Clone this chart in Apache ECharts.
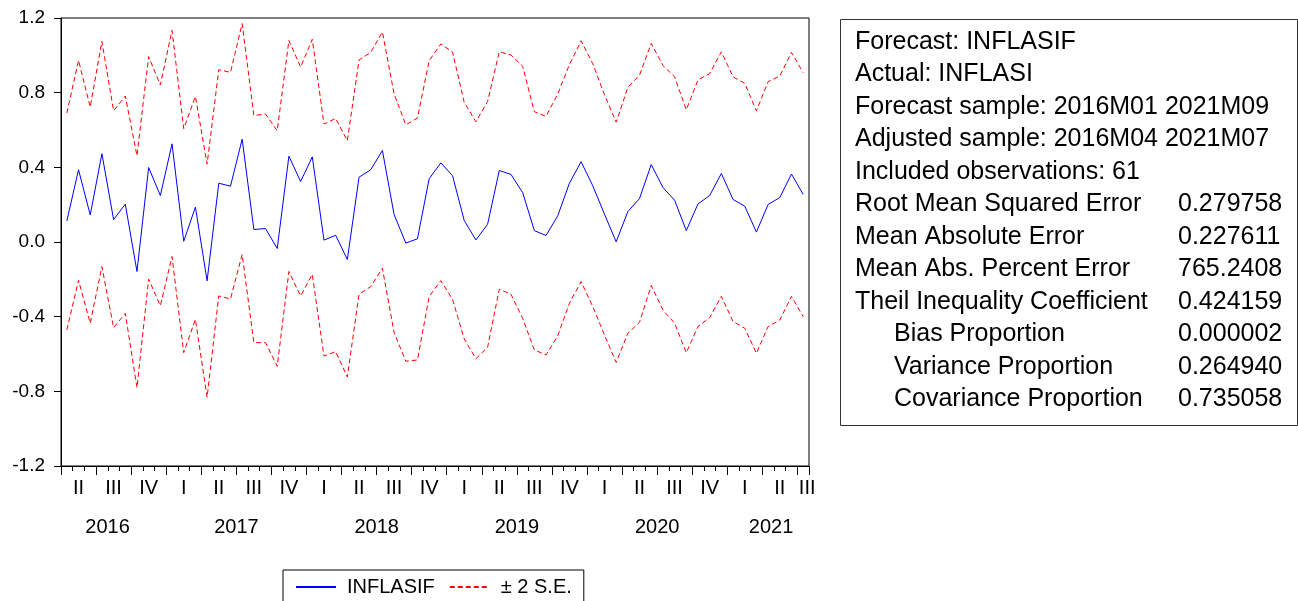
<!DOCTYPE html>
<html>
<head>
<meta charset="utf-8">
<script src="https://cdn.jsdelivr.net/npm/echarts@6/dist/echarts.min.js"></script>
<style>
html,body{margin:0;padding:0;background:#fff;}
#chart{width:1298px;height:601px;}
</style>
</head>
<body>
<div id="chart"></div>
<script>
// ---------- DATA ----------
const months = [
 '2016M04','2016M05','2016M06','2016M07','2016M08','2016M09','2016M10','2016M11','2016M12',
 '2017M01','2017M02','2017M03','2017M04','2017M05','2017M06','2017M07','2017M08','2017M09','2017M10','2017M11','2017M12',
 '2018M01','2018M02','2018M03','2018M04','2018M05','2018M06','2018M07','2018M08','2018M09','2018M10','2018M11','2018M12',
 '2019M01','2019M02','2019M03','2019M04','2019M05','2019M06','2019M07','2019M08','2019M09','2019M10','2019M11','2019M12',
 '2020M01','2020M02','2020M03','2020M04','2020M05','2020M06','2020M07','2020M08','2020M09','2020M10','2020M11','2020M12',
 '2021M01','2021M02','2021M03','2021M04','2021M05','2021M06','2021M07'
];
const forecast = [
 0.113,0.387,0.145,0.473,0.120,0.203,-0.158,0.399,0.249,
 0.526,0.004,0.187,-0.208,0.315,0.299,0.551,0.067,0.072,-0.035,0.460,0.324,
 0.456,0.010,0.036,-0.094,0.347,0.387,0.490,0.147,-0.006,0.017,0.339,0.424,
 0.355,0.115,0.011,0.095,0.383,0.362,0.265,0.061,0.035,0.140,0.315,0.430,
 0.301,0.149,0.001,0.163,0.233,0.415,0.292,0.224,0.061,0.204,0.249,0.367,
 0.228,0.192,0.053,0.201,0.238,0.364,0.255
];
const upperBand = [
 0.691,0.973,0.723,1.075,0.703,0.782,0.462,0.993,0.841,
 1.134,0.607,0.780,0.417,0.923,0.909,1.170,0.678,0.685,0.596,1.080,0.937,
 1.086,0.632,0.662,0.542,0.975,1.016,1.125,0.793,0.628,0.664,0.971,1.061,
 1.018,0.748,0.644,0.753,1.019,1.002,0.941,0.698,0.673,0.793,0.950,1.078,
 0.955,0.789,0.642,0.828,0.894,1.064,0.946,0.885,0.708,0.868,0.902,1.019,
 0.885,0.850,0.703,0.859,0.889,1.016,0.907
];
const lowerBand = [
 -0.471,-0.205,-0.435,-0.132,-0.459,-0.382,-0.780,-0.199,-0.341,
 -0.078,-0.593,-0.414,-0.832,-0.289,-0.305,-0.067,-0.539,-0.539,-0.666,-0.158,-0.289,
 -0.173,-0.611,-0.587,-0.723,-0.280,-0.239,-0.140,-0.485,-0.639,-0.632,-0.292,-0.207,
 -0.307,-0.519,-0.625,-0.564,-0.253,-0.280,-0.409,-0.578,-0.605,-0.503,-0.328,-0.212,
 -0.346,-0.498,-0.645,-0.489,-0.430,-0.233,-0.364,-0.435,-0.593,-0.453,-0.405,-0.291,
 -0.426,-0.462,-0.596,-0.453,-0.418,-0.291,-0.400
];
const quarterNames = ['I','II','III','IV'];
const yearLabels = ['2016','2017','2018','2019','2020','2021'];
const yearLabelAt = ['2016M08','2017M06','2018M06','2019M06','2020M06','2021M04'];
const seriesNames = ['INFLASIF','\u00B1 2 S.E.'];
const headerLines = [
 'Forecast: INFLASIF',
 'Actual: INFLASI',
 'Forecast sample: 2016M01 2021M09',
 'Adjusted sample: 2016M04 2021M07',
 'Included observations: 61'
];
const statLabels = [
 'Root Mean Squared Error','Mean Absolute Error','Mean Abs. Percent Error',
 'Theil Inequality Coefficient','Bias Proportion','Variance Proportion','Covariance Proportion'
];
const statIndented = [false,false,false,false,true,true,true];
const statValues = ['0.279758','0.227611','765.2408','0.424159','0.000002','0.264940','0.735058'];
const yTicks = { min: -1.2, max: 1.2, step: 0.4 };

// ---------- STYLE / LAYOUT ----------
const FONT = '"Liberation Sans", Arial, sans-serif';
const yearShift = { '2016M08':'m', '2017M06':'p', '2018M06':'p', '2019M06':'p', '2020M06':'p', '2021M04':'q' };
const richCommon = (fs) => ({
  n: { fontSize: fs, fontFamily: FONT, color: '#000' },
  p: { fontSize: fs, fontFamily: FONT, color: '#000', padding: [0,0,0,12] },
  q: { fontSize: fs, fontFamily: FONT, color: '#000', padding: [0,0,0,6] },
  m: { fontSize: fs, fontFamily: FONT, color: '#000', padding: [0,12,0,0] },
  e: { fontSize: fs, fontFamily: FONT, color: '#000', padding: [0,0,0,8] }
});

const graphicEls = [];
const boxLeft = 840, boxTop = 19, boxW = 457, boxH = 406;
graphicEls.push({ type: 'rect', left: boxLeft, top: boxTop, z: 10,
  shape: { width: boxW, height: boxH },
  style: { fill: '#fff', stroke: '#333', lineWidth: 1 } });
const lineH = 32.5, firstY = 42, textX = 855, indentX = 894, valX = 1178;
const allRows = headerLines.map(t => ({ label: t, indent: false, value: null }))
  .concat(statLabels.map((t, i) => ({ label: t, indent: statIndented[i], value: statValues[i] })));
allRows.forEach((r, i) => {
  const y = firstY + i * lineH;
  graphicEls.push({ type: 'text', z: 11, x: r.indent ? indentX : textX, y: y,
    style: { text: r.label, fill: '#000', font: '25px ' + FONT, textVerticalAlign: 'middle', textAlign: 'left' } });
  if (r.value !== null) {
    graphicEls.push({ type: 'text', z: 11, x: valX, y: y,
      style: { text: r.value, fill: '#000', font: '25px ' + FONT, textVerticalAlign: 'middle', textAlign: 'left' } });
  }
});

const chart = echarts.init(document.getElementById('chart'), null, { renderer: 'canvas' });
const lastIdx = months.length - 1;
chart.setOption({
  animation: false,
  backgroundColor: '#fff',
  textStyle: { fontFamily: FONT },
  grid: { left: 61, top: 18, width: 748, height: 448, show: true, borderColor: '#000', borderWidth: 1,
          backgroundColor: '#fff', containLabel: false, outerBoundsMode: 'none' },
  legend: {
    data: seriesNames,
    left: 283, top: 570,
    orient: 'horizontal',
    itemWidth: 40, itemHeight: 14, itemGap: 14,
    padding: [7, 12, 12, 12],
    borderColor: '#000', borderWidth: 1, borderRadius: 0,
    backgroundColor: '#fff',
    itemStyle: { opacity: 0 },
    textStyle: { fontSize: 20, fontFamily: FONT, color: '#000', padding: [0,0,0,6] },
    selectedMode: false
  },
  xAxis: [
    { type: 'category', data: months, gridIndex: 0, position: 'bottom', boundaryGap: true,
      axisLine: { show: true, onZero: false, lineStyle: { color: '#000', width: 1 } },
      axisTick: { show: true, length: 5, interval: 0, lineStyle: { color: '#000' } },
      axisLabel: { show: true, margin: 12, fontSize: 20, color: '#000', fontFamily: FONT,
        interval: (idx) => (idx % 3 === 1) || idx === lastIdx,
        formatter: (val, idx) => {
          const m = parseInt(val.slice(5), 10);
          const q = quarterNames[Math.ceil(m / 3) - 1];
          return idx === lastIdx ? '{e|' + q + '}' : '{n|' + q + '}';
        },
        rich: richCommon(20) },
      splitLine: { show: false } },
    { type: 'category', data: months, gridIndex: 0, position: 'bottom', boundaryGap: true,
      axisLine: { show: false, onZero: false },
      axisTick: { show: true, length: 9, interval: 2, lineStyle: { color: '#000' } },
      axisLabel: { show: false }, splitLine: { show: false } },
    { type: 'category', data: months, gridIndex: 0, position: 'bottom', boundaryGap: true,
      axisLine: { show: false, onZero: false }, axisTick: { show: false },
      axisLabel: { show: true, margin: 51, fontSize: 20, color: '#000', fontFamily: FONT,
        interval: (idx, val) => yearLabelAt.indexOf(val) >= 0,
        formatter: (val) => {
          const k = yearLabelAt.indexOf(val);
          return k >= 0 ? '{' + yearShift[val] + '|' + yearLabels[k] + '}' : '';
        },
        rich: richCommon(20) },
      splitLine: { show: false } }
  ],
  yAxis: [{
    type: 'value', min: yTicks.min, max: yTicks.max, interval: yTicks.step,
    axisLine: { show: true, onZero: false, lineStyle: { color: '#000', width: 1 } },
    axisTick: { show: true, length: 7, lineStyle: { color: '#000' } },
    axisLabel: { margin: 16, fontSize: 19, color: '#000', fontFamily: FONT,
      formatter: (v) => v.toFixed(1) },
    splitLine: { show: false }
  }],
  graphic: graphicEls,
  series: [
    { name: seriesNames[0], type: 'line', data: forecast, symbol: 'none', showSymbol: false,
      lineStyle: { color: '#0000ff', width: 1 }, itemStyle: { color: '#0000ff' }, z: 3 },
    { name: seriesNames[1], type: 'line', data: upperBand, symbol: 'none', showSymbol: false,
      lineStyle: { color: '#ff0000', width: 1, type: [5, 3] }, itemStyle: { color: '#ff0000' }, z: 2 },
    { name: seriesNames[1], type: 'line', data: lowerBand, symbol: 'none', showSymbol: false,
      lineStyle: { color: '#ff0000', width: 1, type: [5, 3] }, itemStyle: { color: '#ff0000' }, z: 2 }
  ]
});
</script>
</body>
</html>
